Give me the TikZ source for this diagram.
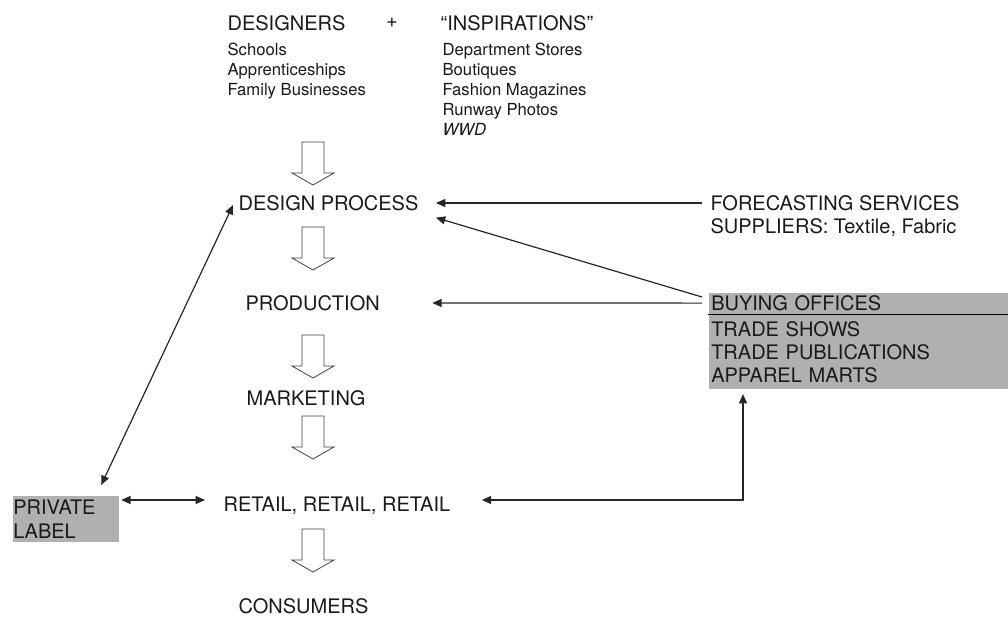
\documentclass[tikz,border=0pt]{standalone}
\usepackage{fontspec}
\setmainfont{TeX Gyre Heros}
\usetikzlibrary{arrows.meta}

\begin{document}
\begin{tikzpicture}[x=0.75pt, y=-0.75pt, >={Triangle[length=7pt, width=6pt]}, line width=0.9pt, draw=black!85]
      \newcommand\BIG{\fontsize{15}{18}\selectfont}
      \newcommand\SMALL{\fontsize{12.5}{15}\selectfont}
      \newcommand\BOXW{225pt}
      \newcommand\DOWN[2]{\draw[line width=0.6pt, black!75, fill=white] (#1-11, #2) -- (#1+11, #2) -- (#1+11, #2+31) -- (#1+21, #2+31) -- (#1, #2+43) -- (#1-21, #2+31) -- (#1-11, #2+31) -- cycle;}
      \tikzset{every node/.style={inner sep=0pt, text=black!90, font=\BIG},
        shade/.style={fill=black!31, align=left, inner xsep=2pt}}

      \useasboundingbox (0, 0) rectangle (1008, 619);

      % sources on top
      \node[anchor=west] (designers) at (227, 23) {DESIGNERS};
      \node (plus) at (392, 23) {+};
      \node[anchor=west] (inspirations) at (440, 23) {“INSPIRATIONS”};
      \node[anchor=north west, align=left, font=\SMALL] (schools) at (227, 42) {Schools\\Apprenticeships\\Family Businesses};
      \node[anchor=north west, align=left, font=\SMALL] (stores) at (442, 42) {Department Stores\\Boutiques\\Fashion Magazines\\Runway Photos\\\textit{WWD}};

      % the chain
      \node[anchor=west] (design) at (238, 203) {DESIGN PROCESS};
      \node[anchor=west] (production) at (245, 303) {PRODUCTION};
      \node[anchor=west] (marketing) at (246, 398) {MARKETING};
      \node[anchor=west] (retail) at (223, 506) {RETAIL, RETAIL, RETAIL};
      \node[anchor=west] (consumers) at (238, 606) {CONSUMERS};

      \DOWN{313}{142}
      \DOWN{313}{227}
      \DOWN{313}{335}
      \DOWN{313}{416}
      \DOWN{313}{529}

      % right side
      \node[anchor=west] (forecasting) at (710, 203) {FORECASTING SERVICES};
      \node[anchor=west] (suppliers) at (710, 227) {SUPPLIERS: Textile, Fabric};
      \node[shade, anchor=north west, minimum width=\BOXW, text width=221pt, minimum height=15.75pt] (buying) at (708, 292) {BUYING OFFICES};
      \node[shade, anchor=north west, text width=221pt, minimum height=56pt, font=\fontsize{15}{17.25}\selectfont] (marts) at (buying.south west) {TRADE SHOWS\\TRADE PUBLICATIONS\\APPAREL MARTS};
      \draw[line width=1pt, black] (buying.south west) -- (buying.south east);

      % left side
      \node[shade, anchor=north west, text width=78.5pt, minimum height=35pt, inner xsep=0.5pt] (private) at (12, 495) {PRIVATE\\LABEL};

      \draw[->] ([xshift=-6pt]forecasting.west) -- ([xshift=12.75pt]design.east);
      \draw[->] ([xshift=-4.5pt, yshift=-3.75pt]buying.north west) -- ([xshift=12.75pt, yshift=-11pt]design.east);
      \draw[->] ([xshift=-4.5pt]buying.west) -- ([xshift=39pt]production.east);
      \draw[<->] ([xshift=23.25pt, yshift=4.5pt]retail.east) -| ([xshift=26.25pt, yshift=-3pt]marts.south west);
      \draw[<->] ([xshift=1.5pt, yshift=-3.75pt]private.north east) -- ([xshift=-13.5pt, yshift=4.5pt]retail.west);
      \draw[<->] ([xshift=-13.5pt, yshift=7.5pt]private.north east) -- ([xshift=-3.75pt, yshift=-1.5pt]design.west);

    \end{tikzpicture}
\end{document}
